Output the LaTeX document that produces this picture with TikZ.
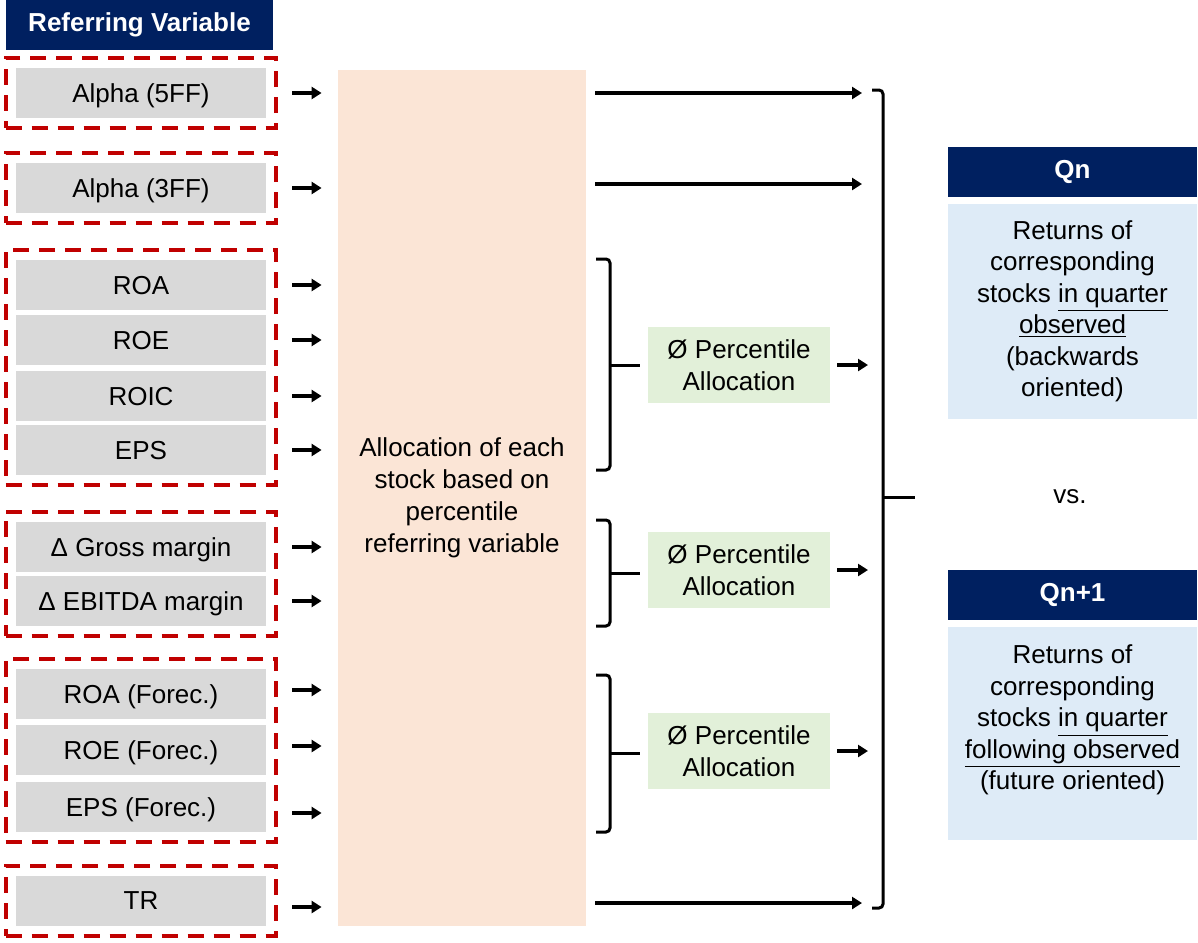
\documentclass[tikz,border=0pt]{standalone}
\usepackage{fontspec}
\setmainfont{Liberation Sans}
\usetikzlibrary{arrows.meta,positioning,fit}

\definecolor{navy}{HTML}{002060}
\definecolor{dashred}{HTML}{C00000}
\definecolor{varGray}{HTML}{D9D9D9}
\definecolor{peach}{HTML}{FBE5D6}
\definecolor{paleGreen}{HTML}{E2F0D9}
\definecolor{paleBlue}{HTML}{DEEBF7}

\begin{document}
\begin{tikzpicture}[
    x=0.5pt, y=-0.5pt,
    every node/.style={font=\fontsize{13}{16}\selectfont},
    header/.style={rectangle, fill=navy, text=white, inner sep=0pt,
                   font=\fontsize{13}{16}\selectfont\bfseries, minimum height=25pt},
    var/.style={rectangle, fill=varGray, inner sep=0pt, text depth=0pt,
                minimum width=125pt, minimum height=25pt},
    group/.style={rectangle, draw=dashred, line width=2pt,
                  dash pattern=on 8pt off 5pt, inner sep=5pt},
    alloc/.style={rectangle, fill=peach, align=center,
                  minimum width=124pt, minimum height=428pt},
    pct/.style={rectangle, fill=paleGreen, align=center, inner sep=0pt,
                minimum width=91pt, minimum height=38pt},
    qbody/.style={rectangle, fill=paleBlue, align=center, inner sep=0pt,
                  minimum width=124.5pt, font=\fontsize{13}{15.75}\selectfont},
    arr/.style={-{Triangle[length=5pt,width=6pt]}, line width=1.8pt},
    brace/.style={line width=1.5pt, rounded corners=2pt}
  ]
    \useasboundingbox (0,0) rectangle (1198,942);

    % left column
    \node[header, minimum width=133.5pt] (refvar) at (139.5,25) {Referring Variable};
    \node[var] (a5) at (141,93) {Alpha (5FF)};
    \node[var] (a3) at (141,188) {Alpha (3FF)};
    \node[var] (roa) at (141,285) {ROA};
    \node[var] (roe) at (141,340) {ROE};
    \node[var] (roic) at (141,396) {ROIC};
    \node[var] (eps) at (141,450) {EPS};
    \node[var] (gross) at (141,547) {Δ Gross margin};
    \node[var] (ebitda) at (141,601) {Δ EBITDA margin};
    \node[var] (roaf) at (141,694) {ROA (Forec.)};
    \node[var] (roef) at (141,750) {ROE (Forec.)};
    \node[var] (epsf) at (141,807) {EPS (Forec.)};
    \node[var] (tr) at (141,901) {TR};

    \node[group, fit=(a5)] (g1) {};
    \node[group, fit=(a3)] (g2) {};
    \node[group, fit=(roa)(eps)] (g3) {};
    \node[group, fit=(gross)(ebitda)] (g4) {};
    \node[group, fit=(roaf)(epsf)] (g5) {};
    \node[group, fit=(tr)] (g6) {};

    % middle
    \node[alloc] (alloc) at (462,498) {Allocation of each\\stock based on\\percentile\\referring variable};
    \node[pct] (p1) at (739,365) {Ø Percentile\\Allocation};
    \node[pct] (p2) at (739,570) {Ø Percentile\\Allocation};
    \node[pct] (p3) at (739,751) {Ø Percentile\\Allocation};

    % right column
    \node[header, minimum width=124.5pt] (qn) at (1072.5,172) {Qn};
    \node[qbody, minimum height=107.5pt, below=3pt of qn] (qnbody)
      {Returns of\\corresponding\\stocks \underline{in quarter}\\\underline{observed}\\(backwards\\oriented)};
    \node (vs) at (1070,497) {vs.};
    \node[header, minimum width=124.5pt] (qn1) at (1072.5,595) {Qn+1};
    \node[qbody, minimum height=106.5pt, below=3pt of qn1] (qn1body)
      {Returns of\\corresponding\\stocks \underline{in quarter}\\\underline{following observed}\\(future oriented)\\\mbox{}};

    % brackets
    \coordinate (bigTop) at (883,90);
    \coordinate (bigBot) at (883,908);
    \draw[brace] (872,90) -- (bigTop) -- (bigBot) -- (872,908);
    \draw[line width=1.5pt] (883,497) -- (915,497);

    \draw[brace] (596,259) -- (610,259) -- (610,470) -- (596,470);
    \draw[line width=1.5pt, shorten >=4pt] (610,365) -- (p1.west);
    \draw[brace] (596,520) -- (610,520) -- (610,626) -- (596,626);
    \draw[line width=1.5pt, shorten >=4pt] (610,573) -- (p2.west |- 0,573);
    \draw[brace] (596,675) -- (610,675) -- (610,832) -- (596,832);
    \draw[line width=1.5pt, shorten >=4pt] (610,753) -- (p3.west |- 0,753);

    % arrows
    \draw[arr, shorten <=13pt, shorten >=8pt] (a5.east) -- (a5.east -| alloc.west);
    \draw[arr, shorten <=13pt, shorten >=8pt] (a3.east) -- (a3.east -| alloc.west);
    \draw[arr, shorten <=13pt, shorten >=8pt] (roa.east) -- (roa.east -| alloc.west);
    \draw[arr, shorten <=13pt, shorten >=8pt] (roe.east) -- (roe.east -| alloc.west);
    \draw[arr, shorten <=13pt, shorten >=8pt] (roic.east) -- (roic.east -| alloc.west);
    \draw[arr, shorten <=13pt, shorten >=8pt] (eps.east) -- (eps.east -| alloc.west);
    \draw[arr, shorten <=13pt, shorten >=8pt] (gross.east) -- (gross.east -| alloc.west);
    \draw[arr, shorten <=13pt, shorten >=8pt] (ebitda.east) -- (ebitda.east -| alloc.west);
    \draw[arr, shorten <=13pt, shorten >=8pt] ([yshift=2pt]roaf.east) -- ([yshift=2pt]roaf.east -| alloc.west);
    \draw[arr, shorten <=13pt, shorten >=8pt] ([yshift=2pt]roef.east) -- ([yshift=2pt]roef.east -| alloc.west);
    \draw[arr, shorten <=13pt, shorten >=8pt] ([yshift=-3pt]epsf.east) -- ([yshift=-3pt]epsf.east -| alloc.west);
    \draw[arr, shorten <=13pt, shorten >=8pt] ([yshift=-3pt]tr.east) -- ([yshift=-3pt]tr.east -| alloc.west);

    \draw[arr, shorten <=4.5pt, shorten >=10.5pt] (a5.east -| alloc.east) -- (a5.east -| bigTop);
    \draw[arr, shorten <=4.5pt, shorten >=10.5pt] ([yshift=2pt]a3.east -| alloc.east) -- ([yshift=2pt]a3.east -| bigTop);
    \draw[arr, shorten <=4.5pt, shorten >=10.5pt] ([yshift=-1pt]tr.east -| alloc.east) -- ([yshift=-1pt]tr.east -| bigTop);

    \draw[arr, shorten <=3.5pt, shorten >=7.5pt] (p1.east) -- (p1.east -| bigTop);
    \draw[arr, shorten <=3.5pt, shorten >=7.5pt] (p2.east) -- (p2.east -| bigTop);
    \draw[arr, shorten <=3.5pt, shorten >=7.5pt] (p3.east) -- (p3.east -| bigTop);
  \end{tikzpicture}
\end{document}
